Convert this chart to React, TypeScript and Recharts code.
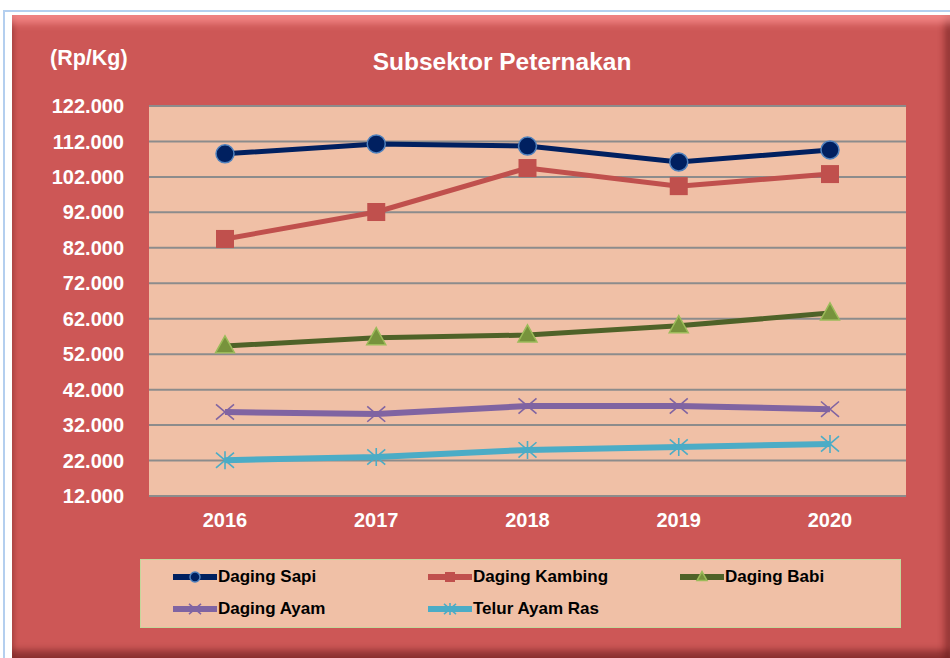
import { LineChart, Line, XAxis, YAxis, CartesianGrid, Legend } from 'recharts';

const years = ['2016', '2017', '2018', '2019', '2020'];
const dagingSapi = [108500, 111300, 110700, 106200, 109600];
const dagingKambing = [84500, 92100, 104500, 99400, 102800];
const dagingBabi = [54300, 56600, 57400, 60000, 63600];
const dagingAyam = [35700, 35100, 37400, 37400, 36500];
const telurAyamRas = [22100, 23000, 25000, 25800, 26700];
const yTicks = [12000, 22000, 32000, 42000, 52000, 62000, 72000, 82000, 92000, 102000, 112000, 122000];

const chartData = years.map((year, i) => ({
  year,
  sapi: dagingSapi[i],
  kambing: dagingKambing[i],
  babi: dagingBabi[i],
  ayam: dagingAyam[i],
  telur: telurAyamRas[i],
}));

const FONT = '"Liberation Sans", Arial, sans-serif';
const PANEL = '#CD5756';
const PLOT_BG = '#F0C0A6';

type Kind = 'circle' | 'square' | 'triangle' | 'x' | 'star';

const SERIES: { key: string; name: string; line: string; fill: string; edge: string; kind: Kind }[] = [
  { key: 'sapi', name: 'Daging Sapi', line: '#002060', fill: '#002060', edge: '#4F81BD', kind: 'circle' },
  { key: 'kambing', name: 'Daging Kambing', line: '#C0504D', fill: '#C0504D', edge: '#C0504D', kind: 'square' },
  { key: 'babi', name: 'Daging Babi', line: '#4F6228', fill: '#77933C', edge: '#9BBB59', kind: 'triangle' },
  { key: 'ayam', name: 'Daging Ayam', line: '#8064A2', fill: '#8064A2', edge: '#8064A2', kind: 'x' },
  { key: 'telur', name: 'Telur Ayam Ras', line: '#4BACC6', fill: '#4BACC6', edge: '#4BACC6', kind: 'star' },
];

function marker(kind: Kind, cx: number, cy: number, fill: string, edge: string, s: number, key?: string) {
  if (kind === 'circle') {
    return <circle key={key} cx={cx} cy={cy} r={s} fill={fill} stroke={edge} strokeWidth={1.5} />;
  }
  if (kind === 'square') {
    return <rect key={key} x={cx - s} y={cy - s} width={s * 2} height={s * 2} fill={fill} />;
  }
  if (kind === 'triangle') {
    const h = s * 1.8;
    return (
      <polygon
        key={key}
        points={`${cx},${cy - h * 0.6} ${cx + s},${cy + h * 0.4} ${cx - s},${cy + h * 0.4}`}
        fill={fill}
        stroke={edge}
        strokeWidth={1.5}
      />
    );
  }
  const d =
    `M${cx - s},${cy - s * 0.85}L${cx + s},${cy + s * 0.85}M${cx + s},${cy - s * 0.85}L${cx - s},${cy + s * 0.85}` +
    (kind === 'star' ? `M${cx},${cy - s}L${cx},${cy + s}` : '');
  return <path key={key} d={d} stroke={edge} strokeWidth={1.6} fill="none" />;
}

function makeDot(s: (typeof SERIES)[number], size: number) {
  return (props: any) => {
    const { cx, cy, index } = props;
    if (cx == null || cy == null) return <g key={`${s.key}-${index}`} />;
    return marker(s.kind, cx, cy, s.fill, s.edge, size, `${s.key}-${index}`);
  };
}

const DOT_SIZE: Record<Kind, number> = { circle: 9, square: 9, triangle: 9.5, x: 9, star: 9 };

const legendPos = [
  { left: 32, top: 17 },
  { left: 287, top: 17 },
  { left: 539, top: 17 },
  { left: 32, top: 49 },
  { left: 287, top: 49 },
];

function renderLegend() {
  return (
    <div
      style={{
        position: 'relative',
        width: 761,
        height: 69,
        boxSizing: 'border-box',
        background: PLOT_BG,
        border: '1.5px solid #C4D79B',
        fontFamily: FONT,
      }}
    >
      {SERIES.map((s, i) => (
        <div
          key={s.key}
          style={{
            position: 'absolute',
            left: legendPos[i].left,
            top: legendPos[i].top - 10,
            display: 'flex',
            alignItems: 'center',
            height: 20,
          }}
        >
          <svg width={44} height={20}>
            <line x1={1} y1={10} x2={43} y2={10} stroke={s.line} strokeWidth={6} strokeLinecap="round" />
            {marker(s.kind, 22, 10, s.fill, s.edge, s.kind === 'x' || s.kind === 'star' ? 6 : 5)}
          </svg>
          <span style={{ fontSize: 17, fontWeight: 'bold', color: '#000', marginLeft: 1 }}>{s.name}</span>
        </div>
      ))}
    </div>
  );
}

export default function App() {
  return (
    <div style={{ position: 'absolute', left: 0, top: 0, width: 950, height: 658, background: '#fff', overflow: 'hidden' }}>
      <div
        style={{
          position: 'absolute',
          left: 3,
          top: 10,
          width: 960,
          height: 660,
          border: '2px solid #B4CFEF',
          boxSizing: 'border-box',
        }}
      />
      <div
        style={{
          position: 'absolute',
          left: 12,
          top: 15,
          width: 938,
          height: 643,
          background: PANEL,
          boxShadow:
            'inset 0 14px 8px -6px rgba(255,150,150,0.75), inset -9px 0 6px -3px rgba(90,20,20,0.45), inset 0 -11px 6px -3px rgba(90,20,20,0.5), inset 4px 0 4px -2px rgba(90,20,20,0.3)',
        }}
      />
      <div
        style={{
          position: 'absolute',
          left: 50,
          top: 46,
          color: '#fff',
          fontFamily: FONT,
          fontWeight: 'bold',
          fontSize: 21.5,
        }}
      >
        (Rp/Kg)
      </div>
      <div
        style={{
          position: 'absolute',
          left: 0,
          width: 1004,
          top: 48,
          textAlign: 'center',
          color: '#fff',
          fontFamily: FONT,
          fontWeight: 'bold',
          fontSize: 24.5,
        }}
      >
        Subsektor Peternakan
      </div>
      <div style={{ position: 'absolute', left: 0, top: 0 }}>
        <LineChart width={950} height={658} data={chartData} margin={{ top: 106, right: 44, bottom: 132, left: 0 }}>
          <CartesianGrid vertical={false} fill={PLOT_BG} stroke="#8C8C8C" strokeWidth={2} />
          <XAxis
            dataKey="year"
            height={30}
            padding={{ left: 76, right: 76 }}
            axisLine={false}
            tickLine={false}
            tickSize={0}
            tickMargin={17}
            tick={{ fill: '#fff', fontSize: 20, fontWeight: 'bold', fontFamily: FONT }}
          />
          <YAxis
            width={149}
            domain={[12000, 122000]}
            ticks={yTicks}
            interval={0}
            axisLine={false}
            tickLine={false}
            tickSize={0}
            tickMargin={25}
            tickFormatter={(v: number) => `${Math.round(v / 1000)}.000`}
            tick={{ fill: '#fff', fontSize: 20, fontWeight: 'bold', fontFamily: FONT }}
          />
          <Legend
            layout="horizontal"
            verticalAlign="middle"
            align="center"
            content={renderLegend}
            wrapperStyle={{ left: 140, top: 559, width: 761, height: 69 }}
          />
          {SERIES.map((s) => (
            <Line
              key={s.key}
              dataKey={s.key}
              name={s.name}
              type="linear"
              stroke={s.line}
              strokeWidth={s.kind === 'x' || s.kind === 'star' ? 6 : 5}
              dot={makeDot(s, DOT_SIZE[s.kind])}
              activeDot={false}
              isAnimationActive={false}
            />
          ))}
        </LineChart>
      </div>
    </div>
  );
}
